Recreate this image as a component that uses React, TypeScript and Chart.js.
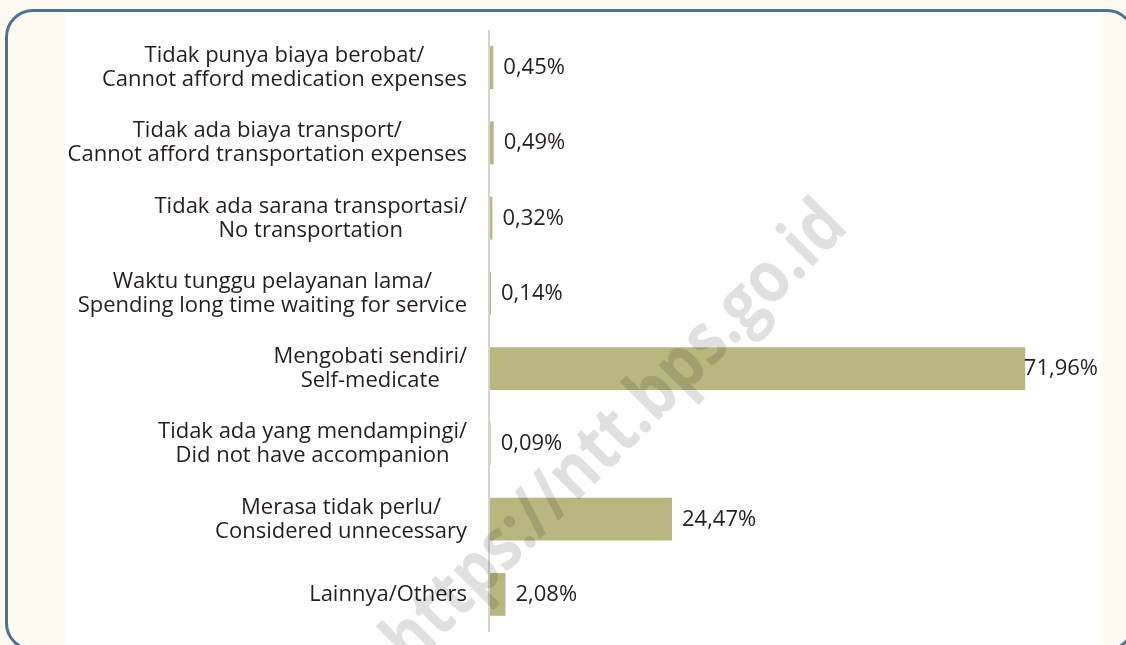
import React, { useEffect, useRef } from "react";
import { Chart, registerables } from "chart.js";

Chart.register(...registerables);

const categories: string[][] = [
  ["Tidak punya biaya berobat/", "Cannot afford medication expenses"],
  ["Tidak ada biaya transport/", "Cannot afford transportation expenses"],
  ["Tidak ada sarana transportasi/", "No transportation"],
  ["Waktu tunggu pelayanan lama/", "Spending long time waiting for service"],
  ["Mengobati sendiri/", "Self-medicate"],
  ["Tidak ada yang mendampingi/", "Did not have accompanion"],
  ["Merasa tidak perlu/", "Considered unnecessary"],
  ["Lainnya/Others"],
];

const values: number[] = [0.45, 0.49, 0.32, 0.14, 71.96, 0.09, 24.47, 2.08];

const watermarkText = "https://ntt.bps.go.id";

const FONT = '"Open Sans", "Noto Sans", sans-serif';
const TEXT_COLOR = "#231f20";
const BAR_COLOR = "#b8b77f";

const fmt = (v: number) => v.toFixed(2).replace(".", ",") + "%";

const customDraw = {
  id: "customDraw",
  afterDatasetsDraw(chart: any) {
    const ctx = chart.ctx as CanvasRenderingContext2D;
    const yScale = chart.scales.y;
    const area = chart.chartArea;
    const meta = chart.getDatasetMeta(0);
    ctx.save();
    // axis line
    ctx.strokeStyle = "#d4d4d4";
    ctx.lineWidth = 2;
    ctx.beginPath();
    ctx.moveTo(area.left - 1, area.top);
    ctx.lineTo(area.left - 1, area.bottom);
    ctx.stroke();

    ctx.font = `22px ${FONT}`;
    ctx.fillStyle = TEXT_COLOR;
    ctx.textBaseline = "alphabetic";
    const labelRight = area.left - 23;
    const lineH = 24;
    categories.forEach((lines, i) => {
      const cy = yScale.getPixelForTick(i);
      const w = Math.max(...lines.map((l) => ctx.measureText(l).width));
      const cx = labelRight - w / 2;
      ctx.textAlign = "center";
      lines.forEach((l, j) => {
        const y = cy + (j - (lines.length - 1) / 2) * lineH + 6.5;
        ctx.fillText(l, cx, y);
      });
    });

    // value labels
    ctx.textAlign = "left";
    meta.data.forEach((bar: any, i: number) => {
      const t = fmt(values[i]);
      const tw = ctx.measureText(t).width;
      let x = bar.x + 10;
      const maxRight = chart.width - 28;
      if (x + tw > maxRight) x = maxRight - tw;
      ctx.fillText(t, x, bar.y + 6.5);
    });

    // watermark
    ctx.translate(616, 434);
    ctx.rotate((-45 * Math.PI) / 180);
    ctx.scale(0.86, 1);
    ctx.font = `bold 72px ${FONT}`;
    ctx.fillStyle = "rgba(0,0,0,0.12)";
    ctx.textAlign = "center";
    ctx.textBaseline = "middle";
    ctx.fillText(watermarkText, 0, 0);
    ctx.restore();
  },
};

export default function App() {
  const ref = useRef<HTMLCanvasElement>(null);
  useEffect(() => {
    if (!ref.current) return;
    const chart = new Chart(ref.current, {
      type: "bar",
      data: {
        labels: categories,
        datasets: [
          {
            data: values,
            backgroundColor: BAR_COLOR,
            borderWidth: 0,
            barPercentage: 0.57,
            categoryPercentage: 1,
          },
        ],
      },
      options: {
        indexAxis: "y",
        responsive: false,
        animation: false,
        layout: { padding: { left: 490, right: 41, top: 30, bottom: 13 } },
        plugins: {
          legend: { display: false },
          tooltip: { enabled: false },
        },
        scales: {
          x: { display: false, min: 0, max: 80 },
          y: {
            display: true,
            grid: { display: false },
            border: { display: false },
            ticks: { display: false },
            afterFit: (s: any) => {
              s.width = 0;
            },
          },
        },
      },
      plugins: [customDraw],
    });
    return () => chart.destroy();
  }, []);

  return (
    <div
      style={{
        position: "fixed",
        left: 0,
        top: 0,
        width: 1126,
        height: 645,
        background: "#fffbf2",
        overflow: "hidden",
      }}
    >
      <div
        style={{
          position: "absolute",
          left: 65,
          top: 12,
          width: 1037,
          height: 640,
          background: "#ffffff",
        }}
      />
      <div
        style={{
          position: "absolute",
          left: 5,
          top: 9,
          width: 1130,
          height: 642,
          border: "3px solid #4b7393",
          borderRadius: 28,
          boxSizing: "border-box",
        }}
      />
      <canvas
        ref={ref}
        width={1126}
        height={645}
        style={{ position: "absolute", left: 0, top: 0, width: 1126, height: 645 }}
      />
    </div>
  );
}
